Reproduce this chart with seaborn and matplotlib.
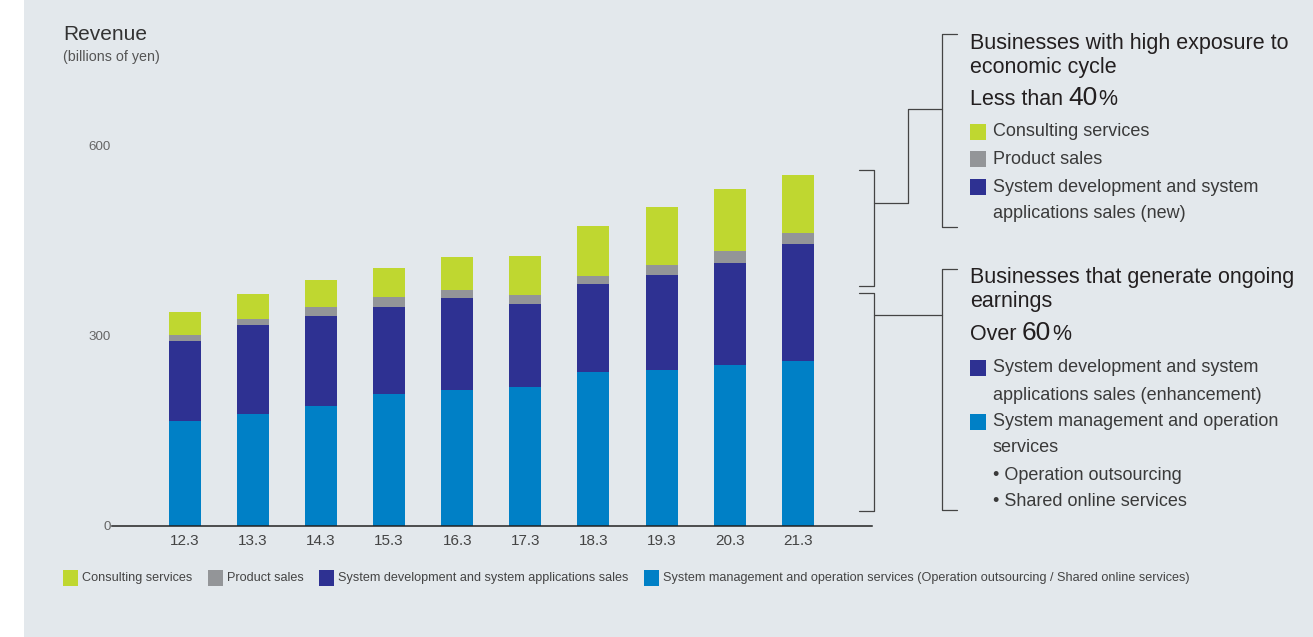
import numpy as np
import pandas as pd
import matplotlib.pyplot as plt
import seaborn as sns
from matplotlib.lines import Line2D
from matplotlib.patches import Rectangle

sns.set_theme(style="white")
plt.rcParams['font.family'] = ['Liberation Sans', 'DejaVu Sans']

# data (billions of yen)
years = ['12.3', '13.3', '14.3', '15.3', '16.3', '17.3', '18.3', '19.3', '20.3', '21.3']
sys_mgmt = [165, 176, 189, 208, 214, 219, 242, 246, 253, 260]
sys_dev = [126, 141, 142, 137, 145, 131, 139, 150, 161, 184]
product = [10, 9, 14, 16, 13, 14, 13, 15, 19, 18]
consulting = [36, 40, 43, 46, 52, 62, 79, 92, 98, 91]

series = ['System management and operation services', 'System development and system applications sales',
          'Product sales', 'Consulting services']
colors = ['#0080c6', '#2e3192', '#939598', '#bfd730']

df = pd.DataFrame({'year': years, series[0]: sys_mgmt, series[1]: sys_dev,
                   series[2]: product, series[3]: consulting})
cum = df[series].cumsum(axis=1)

W, H = 1313, 637
BG = '#e3e8ec'


def fx(x):
    return x / W


def fy(y):
    return 1 - y / H


fig = plt.figure(figsize=(W / 100, H / 100), dpi=100)
fig.patch.set_facecolor('white')
fig.patches.append(Rectangle((fx(24), 0), 1 - fx(24), 1, transform=fig.transFigure,
                             facecolor=BG, edgecolor='none', zorder=-10))

ax = fig.add_axes([fx(112), fy(525.5), fx(872) - fx(112), (525.5 - 145.5) / H])
ax.set_facecolor(BG)

# stacked bars: draw the cumulative totals from the top down
for name, c in zip(series[::-1], colors[::-1]):
    sns.barplot(x=df['year'], y=cum[name], color=c, width=0.47, saturation=1,
                linewidth=0, ax=ax, zorder=2)

ax.set_xlim(-1.07, 10.09)
ax.set_ylim(0, 600)
ax.set_yticks([0, 300, 600])
ax.set_xlabel('')
ax.set_ylabel('')
for s in ['top', 'right', 'left']:
    ax.spines[s].set_visible(False)
ax.spines['bottom'].set_color('#222222')
ax.spines['bottom'].set_linewidth(1.1)
ax.tick_params(axis='y', length=0, pad=1, labelsize=9.6, labelcolor='#666666')
ax.tick_params(axis='x', length=0, pad=6, labelsize=11, labelcolor='#444444')

# titles
fig.text(fx(63), fy(34), 'Revenue', fontsize=15, color='#333333', va='center', ha='left')
fig.text(fx(63), fy(57), '(billions of yen)', fontsize=10.3, color='#555555', va='center', ha='left')

# bottom legend
leg = [(62.5, colors[3], 'Consulting services'),
       (208, colors[2], 'Product sales'),
       (319, colors[1], 'System development and system applications sales'),
       (644, colors[0], 'System management and operation services (Operation outsourcing / Shared online services)')]
for x0, c, lab in leg:
    fig.patches.append(Rectangle((fx(x0), fy(586)), 15 / W, 16 / H, transform=fig.transFigure,
                                 facecolor=c, edgecolor='none'))
    fig.text(fx(x0 + 19), fy(578), lab, fontsize=9.1, color='#444444',
             va='center', ha='left')


# brackets on the right
def line(xs, ys):
    fig.add_artist(Line2D([fx(v) for v in xs], [fy(v) for v in ys], transform=fig.transFigure,
                          color='#444444', linewidth=0.9))


line([859, 874, 874, 859], [170, 170, 286, 286])
line([874, 908, 908, 942], [203, 203, 109, 109])
line([957, 942, 942, 957], [34, 34, 227, 227])
line([859, 874, 874, 859], [293, 293, 511, 511])
line([874, 942], [315, 315])
line([957, 942, 942, 957], [269, 269, 510, 510])

dark = '#231f20'
txt = '#3a3a3a'
head = 15.5
item = 13
fig.text(fx(970), fy(43), 'Businesses with high exposure to', fontsize=head, color=dark, va='center')
fig.text(fx(970), fy(67), 'economic cycle', fontsize=head, color=dark, va='center')
fig.text(fx(970), fy(105), 'Less than', fontsize=head, color=dark, va='baseline')
fig.text(fx(1068), fy(105), '40', fontsize=19, color=dark, va='baseline')
fig.text(fx(1098), fy(105), '%', fontsize=head, color=dark, va='baseline')

fig.text(fx(970), fy(278), 'Businesses that generate ongoing', fontsize=head, color=dark, va='center')
fig.text(fx(970), fy(302), 'earnings', fontsize=head, color=dark, va='center')
fig.text(fx(970), fy(340), 'Over', fontsize=head, color=dark, va='baseline')
fig.text(fx(1022), fy(340), '60', fontsize=19, color=dark, va='baseline')
fig.text(fx(1052), fy(340), '%', fontsize=head, color=dark, va='baseline')


def sq(y, c):
    fig.patches.append(Rectangle((fx(970), fy(y + 8)), 16 / W, 16 / H, transform=fig.transFigure,
                                 facecolor=c, edgecolor='none'))


sq(132, colors[3])
sq(159, colors[2])
sq(187, colors[1])
sq(368, colors[1])
sq(422, colors[0])

right_items = [(132, 993, 'Consulting services'), (159, 993, 'Product sales'),
               (187, 993, 'System development and system'), (213, 993, 'applications sales (new)'),
               (368, 993, 'System development and system'), (395, 993, 'applications sales (enhancement)'),
               (422, 993, 'System management and operation'), (448, 993, 'services'),
               (475, 993, '\u2022 Operation outsourcing'), (502, 993, '\u2022 Shared online services')]
for y, x, t in right_items:
    fig.text(fx(x), fy(y), t, fontsize=item, color=txt, va='center')

fig.savefig('out.png', dpi=100, facecolor=fig.get_facecolor())
